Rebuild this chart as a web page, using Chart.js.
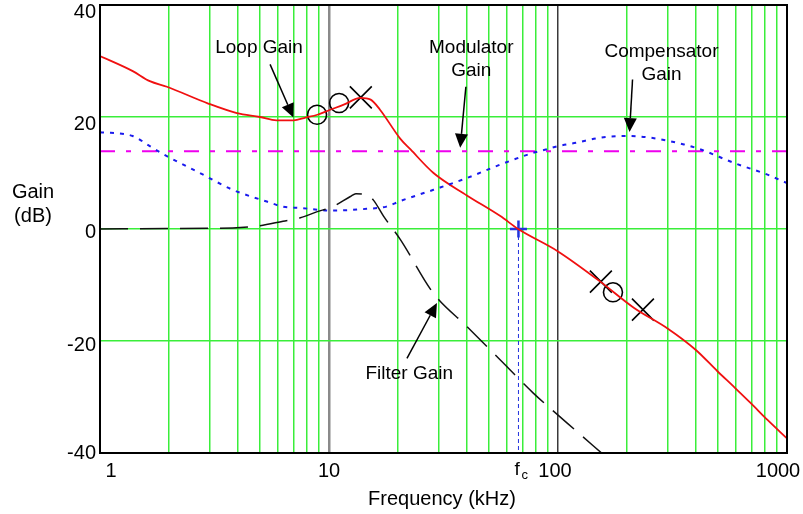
<!DOCTYPE html>
<html>
<head>
<meta charset="utf-8">
<script src="https://cdn.jsdelivr.net/npm/chart.js@4.4.1/dist/chart.umd.min.js"></script>
<style>
body { margin: 0; background: #fff; }
canvas { display: block; }
</style>
</head>
<body>
<canvas id="grafico" width="803" height="514"></canvas>
<script>
// valores: frecuencia en kHz, ganancia en dB
const yTicks = [-40, -20, 0, 20, 40];
const xLabels = [1, 10, 100, 1000];

const fLoop = [1, 1.39, 1.65, 1.96, 2.97, 3.96, 5.0, 5.9, 7.0, 7.9, 8.9, 10, 11.6, 13.7, 15.2, 16.7, 20.5, 22.7, 28.6, 40, 56, 67, 100, 153, 215, 302, 400, 497, 587, 695, 822, 1000];
const gLoop = [30.9, 28.2, 26.4, 25.4, 22.4, 20.7, 20.0, 19.4, 19.4, 19.9, 20.4, 21.2, 22.2, 23.4, 23.1, 21.3, 16.1, 14.2, 10.0, 6.0, 2.3, 0, -4.0, -9.4, -14.1, -17.8, -21.6, -25.4, -28.2, -31.1, -34.1, -37.4];

const fComp = [1, 1.39, 1.65, 1.96, 2.73, 3.8, 5.35, 6.3, 7.5, 10.4, 14.6, 17.8, 20.5, 28.6, 40, 56, 78, 88.5, 100, 120, 153, 200, 254, 355, 420, 587, 822, 1000];
const gComp = [17.3, 16.6, 14.8, 13.0, 10.0, 7.0, 4.9, 4.0, 3.75, 3.3, 3.6, 4.0, 5.0, 7.0, 9.1, 11.5, 13.6, 14.2, 14.8, 15.4, 16.3, 16.6, 16.3, 15.1, 14.2, 11.8, 9.7, 8.2];

const fMod = [1, 1000];
const gMod = [13.9, 13.9];

const fFilt = [1, 1.96, 3.8, 5, 6.3, 7.5, 8.9, 10.4, 12.4, 13.1, 14.6, 15.6, 17.3, 20.5, 28.6, 40, 56, 78, 110, 160];
const gFilt = [0, 0.1, 0.2, 0.6, 1.4, 2.0, 3.1, 4.0, 5.8, 6.3, 6.1, 5.2, 2.3, -1.9, -11.5, -17.4, -23.4, -29.3, -34.7, -40.5];

// marcas de polos (x) y ceros (o)
const fMarks = [8.87, 11.07, 13.77, 153.9, 173.8, 234.9];
const gMarks = [20.4, 22.5, 23.5, -9.4, -11.3, -14.4];
const tipoMarks = ['circle', 'circle', 'crossRot', 'crossRot', 'circle', 'crossRot'];

const fCruce = 67.2;

// etiquetas con flecha: texto, posicion del texto, cola y punta (kHz, dB)
const notas = [
    { lineas: ['Loop Gain'], f: 4.95, g: 32.4, cola: [5.53, 29.4], punta: [6.99, 19.9] },
    { lineas: ['Modulator', 'Gain'], f: 41.8, g: 32.3, cola: [39.6, 25.4], punta: [37.4, 14.5] },
    { lineas: ['Compensator', 'Gain'], f: 283, g: 31.6, cola: [211.6, 26.7], punta: [205.3, 17.3] },
    { lineas: ['Filter Gain'], f: 22.4, g: -25.9, cola: [21.9, -23.1], punta: [29.6, -13.2] }
];

const pares = (fs, gs) => fs.map((f, i) => ({ x: f, y: gs[i] }));

const gridFreqs = [];
for (let d = 1; d <= 100; d *= 10) {
    for (let k = 1; k <= 9; k++) gridFreqs.push(k * d);
}
gridFreqs.push(1000);

const fuente = "'Liberation Sans', Arial, sans-serif";

function flecha(ctx, x1, y1, x2, y2) {
    const ang = Math.atan2(y2 - y1, x2 - x1);
    const largo = 14, ancho = 6.5;
    const bx = x2 - largo * Math.cos(ang), by = y2 - largo * Math.sin(ang);
    ctx.beginPath();
    ctx.moveTo(x1, y1);
    ctx.lineTo(bx, by);
    ctx.stroke();
    ctx.beginPath();
    ctx.moveTo(x2, y2);
    ctx.lineTo(bx + ancho * Math.sin(ang), by - ancho * Math.cos(ang));
    ctx.lineTo(bx - ancho * Math.sin(ang), by + ancho * Math.cos(ang));
    ctx.closePath();
    ctx.fill();
}

const decoraciones = {
    id: 'decoraciones',
    afterDraw(chart) {
        const { ctx, chartArea: a, scales: { x, y } } = chart;
        ctx.save();
        ctx.strokeStyle = '#000';
        ctx.lineWidth = 2;
        ctx.strokeRect(a.left, a.top, a.right - a.left, a.bottom - a.top);

        ctx.fillStyle = '#000';
        ctx.font = '20px ' + fuente;
        // etiquetas del eje y
        const ajusteY = { '40': 7, '20': 7, '0': 3, '-20': 4, '-40': 0 };
        ctx.textAlign = 'right';
        ctx.textBaseline = 'middle';
        yTicks.forEach(v => {
            ctx.fillText(String(v), a.left - 4, y.getPixelForValue(v) + ajusteY[String(v)]);
        });
        // etiquetas del eje x
        const ajusteX = { '1': 11, '10': 0, '100': -3, '1000': -9 };
        ctx.textAlign = 'center';
        xLabels.forEach(v => {
            ctx.fillText(String(v), x.getPixelForValue(v) + ajusteX[String(v)], a.bottom + 18);
        });
        // f_c
        const px = x.getPixelForValue(fCruce);
        ctx.font = '19px ' + fuente;
        ctx.textAlign = 'left';
        ctx.fillText('f', px - 4, a.bottom + 17);
        ctx.font = '13px ' + fuente;
        ctx.fillText('c', px + 3, a.bottom + 22);

        // titulos
        ctx.font = '20px ' + fuente;
        ctx.textAlign = 'center';
        ctx.fillText('Gain', 33, 192);
        ctx.fillText('(dB)', 33, 216);
        ctx.fillText('Frequency (kHz)', 442, 499);

        // notas con flechas
        ctx.font = '19px ' + fuente;
        ctx.lineWidth = 1.5;
        notas.forEach(n => {
            const tx = x.getPixelForValue(n.f), ty = y.getPixelForValue(n.g);
            n.lineas.forEach((l, i) => ctx.fillText(l, tx, ty + i * 23));
            flecha(ctx,
                x.getPixelForValue(n.cola[0]), y.getPixelForValue(n.cola[1]),
                x.getPixelForValue(n.punta[0]), y.getPixelForValue(n.punta[1]));
        });
        ctx.restore();
    }
};

const verde = '#3aee3a';
const colorGrid = (ctx) => {
    const v = ctx.tick ? ctx.tick.value : null;
    if (v === 10) return '#8a8a8a';
    if (v === 100) return '#3a3a3a';
    if (v === 1 || v === 1000) return '#000';
    return verde;
};

const chart = new Chart(document.getElementById('grafico'), {
    type: 'scatter',
    data: {
        datasets: [
            {
                label: 'Filter Gain',
                data: pares(fFilt, gFilt),
                showLine: true,
                borderColor: '#111',
                borderWidth: 1.5,
                borderDash: [28, 12],
                pointRadius: 0,
                cubicInterpolationMode: 'monotone'
            },
            {
                label: 'Compensator Gain',
                data: pares(fComp, gComp),
                showLine: true,
                borderColor: '#1a1aee',
                borderWidth: 2,
                borderDash: [4, 6],
                pointRadius: 0,
                cubicInterpolationMode: 'monotone'
            },
            {
                label: 'Modulator Gain',
                data: pares(fMod, gMod),
                showLine: true,
                borderColor: '#ee00ee',
                borderWidth: 2,
                borderDash: [15, 11, 5, 11],
                pointRadius: 0
            },
            {
                label: 'Loop Gain',
                data: pares(fLoop, gLoop),
                showLine: true,
                borderColor: '#f01010',
                borderWidth: 1.8,
                pointRadius: 0,
                cubicInterpolationMode: 'monotone'
            },
            {
                label: 'fc',
                data: [{ x: fCruce, y: 0 }, { x: fCruce, y: -40 }],
                showLine: true,
                borderColor: '#2233dd',
                borderWidth: 1,
                borderDash: [4, 3],
                pointRadius: [8.5, 0],
                pointStyle: 'cross',
                pointBorderColor: '#2233dd',
                pointBorderWidth: 2.5
            },
            {
                label: 'marcas',
                data: pares(fMarks, gMarks),
                showLine: false,
                pointStyle: tipoMarks,
                pointRadius: tipoMarks.map(t => t === 'circle' ? 9.5 : 15.5),
                pointBorderColor: '#000',
                pointBackgroundColor: 'rgba(0,0,0,0)',
                pointBorderWidth: 1.6
            }
        ]
    },
    options: {
        responsive: false,
        animation: false,
        layout: { autoPadding: false, padding: { left: 100, right: 16, top: 5, bottom: 61 } },
        plugins: {
            legend: { display: false },
            tooltip: { enabled: false }
        },
        scales: {
            x: {
                type: 'logarithmic',
                min: 1,
                max: 1000,
                afterBuildTicks: (s) => { s.ticks = gridFreqs.map(v => ({ value: v })); },
                ticks: { display: false },
                border: { display: false },
                grid: {
                    drawTicks: false,
                    color: colorGrid,
                    lineWidth: (ctx) => (ctx.tick && ctx.tick.value === 10) ? 2.5 : 1.5
                }
            },
            y: {
                min: -40,
                max: 40,
                ticks: { display: false, stepSize: 20 },
                border: { display: false },
                grid: {
                    drawTicks: false,
                    color: verde,
                    lineWidth: 1.5
                }
            }
        }
    },
    plugins: [decoraciones]
});
</script>
</body>
</html>
